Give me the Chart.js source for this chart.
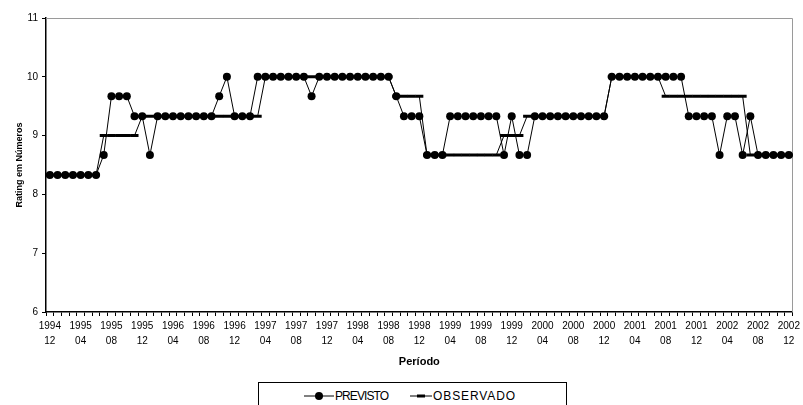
<!DOCTYPE html>
<html><head><meta charset="utf-8">
<script src="https://cdn.jsdelivr.net/npm/chart.js@4/dist/chart.umd.min.js"></script>
<style>
html,body{margin:0;padding:0;background:#fff;}
#wrap{position:relative;width:803px;height:405px;overflow:hidden;background:#fff;}
#legend{position:absolute;left:258px;top:382px;width:309px;height:40px;border:1px solid #000;box-sizing:border-box;font:12px "Liberation Sans",Arial,sans-serif;color:#000;background:#fff;}
.item{position:absolute;top:6px;display:flex;align-items:center;line-height:14px;}
.item svg{display:block;}
</style></head><body>
<div id="wrap">
<canvas id="c" width="803" height="405"></canvas>
<div id="legend">
 <div class="item" style="left:45px"><svg width="30" height="10"><line x1="0" y1="5" x2="30" y2="5" stroke="#000" stroke-width="1"/><circle cx="15" cy="5" r="4" fill="#000"/></svg><span style="margin-left:1px;letter-spacing:-0.9px">PREVISTO</span></div>
 <div class="item" style="left:151px"><svg width="22" height="10"><line x1="0" y1="5" x2="22" y2="5" stroke="#000" stroke-width="1"/><line x1="7" y1="5" x2="15" y2="5" stroke="#000" stroke-width="3"/></svg><span style="margin-left:1px;letter-spacing:0.9px">OBSERVADO</span></div>
</div>
</div>
<script>
// Months from 1994-12 to 2002-12
const categories = [
 '1994-12',
 '1995-01','1995-02','1995-03','1995-04','1995-05','1995-06','1995-07','1995-08','1995-09','1995-10','1995-11','1995-12',
 '1996-01','1996-02','1996-03','1996-04','1996-05','1996-06','1996-07','1996-08','1996-09','1996-10','1996-11','1996-12',
 '1997-01','1997-02','1997-03','1997-04','1997-05','1997-06','1997-07','1997-08','1997-09','1997-10','1997-11','1997-12',
 '1998-01','1998-02','1998-03','1998-04','1998-05','1998-06','1998-07','1998-08','1998-09','1998-10','1998-11','1998-12',
 '1999-01','1999-02','1999-03','1999-04','1999-05','1999-06','1999-07','1999-08','1999-09','1999-10','1999-11','1999-12',
 '2000-01','2000-02','2000-03','2000-04','2000-05','2000-06','2000-07','2000-08','2000-09','2000-10','2000-11','2000-12',
 '2001-01','2001-02','2001-03','2001-04','2001-05','2001-06','2001-07','2001-08','2001-09','2001-10','2001-11','2001-12',
 '2002-01','2002-02','2002-03','2002-04','2002-05','2002-06','2002-07','2002-08','2002-09','2002-10','2002-11','2002-12'
];

const tickLabels = [
 ['1994','12'],['1995','04'],['1995','08'],['1995','12'],['1996','04'],['1996','08'],['1996','12'],
 ['1997','04'],['1997','08'],['1997','12'],['1998','04'],['1998','08'],['1998','12'],
 ['1999','04'],['1999','08'],['1999','12'],['2000','04'],['2000','08'],['2000','12'],
 ['2001','04'],['2001','08'],['2001','12'],['2002','04'],['2002','08'],['2002','12']
];

const previsto = [
 8.33,
 8.33,8.33,8.33,8.33,8.33,8.33,8.67,9.67,9.67,9.67,9.33,9.33,
 8.67,9.33,9.33,9.33,9.33,9.33,9.33,9.33,9.33,9.67,10,9.33,
 9.33,9.33,10,10,10,10,10,10,10,9.67,10,10,
 10,10,10,10,10,10,10,10,9.67,9.33,9.33,9.33,
 8.67,8.67,8.67,9.33,9.33,9.33,9.33,9.33,9.33,9.33,8.67,9.33,
 8.67,8.67,9.33,9.33,9.33,9.33,9.33,9.33,9.33,9.33,9.33,9.33,
 10,10,10,10,10,10,10,10,10,10,9.33,9.33,
 9.33,9.33,8.67,9.33,9.33,8.67,9.33,8.67,8.67,8.67,8.67,8.67
];

const observado = [
 8.33,
 8.33,8.33,8.33,8.33,8.33,8.33,9,9,9,9,9,9.33,
 9.33,9.33,9.33,9.33,9.33,9.33,9.33,9.33,9.33,9.33,9.33,9.33,
 9.33,9.33,9.33,10,10,10,10,10,10,10,10,10,
 10,10,10,10,10,10,10,10,9.67,9.67,9.67,9.67,
 8.67,8.67,8.67,8.67,8.67,8.67,8.67,8.67,8.67,8.67,9,9,
 9,9.33,9.33,9.33,9.33,9.33,9.33,9.33,9.33,9.33,9.33,9.33,
 10,10,10,10,10,10,10,9.67,9.67,9.67,9.67,9.67,
 9.67,9.67,9.67,9.67,9.67,9.67,8.67,8.67,8.67,8.67,8.67,8.67
];

const FONT = '"Liberation Sans", Arial, sans-serif';

const framePlugin = {
  id: 'frame',
  beforeDatasetsDraw(chart) {
    const {ctx, chartArea: a} = chart;
    ctx.save();
    ctx.strokeStyle = '#9a9a9a';
    ctx.lineWidth = 1;
    ctx.beginPath();
    ctx.moveTo(a.left, Math.round(a.top) + 0.5);
    ctx.lineTo(Math.round(a.right) - 0.5, Math.round(a.top) + 0.5);
    ctx.lineTo(Math.round(a.right) - 0.5, a.bottom);
    ctx.stroke();
    ctx.restore();
  }
};

new Chart(document.getElementById('c'), {
  type: 'line',
  data: {
    labels: categories,
    datasets: [
      {
        label: 'OBSERVADO',
        data: observado,
        borderColor: '#000',
        borderWidth: 1,
        pointStyle: 'line',
        pointRadius: 4,
        pointBorderWidth: 3,
        pointBorderColor: '#000',
        pointBackgroundColor: '#000',
        tension: 0,
        fill: false
      },
      {
        label: 'PREVISTO',
        data: previsto,
        borderColor: '#000',
        borderWidth: 1,
        pointStyle: 'circle',
        pointRadius: 4,
        pointBorderWidth: 0,
        pointBackgroundColor: '#000',
        tension: 0,
        fill: false
      }
    ]
  },
  options: {
    responsive: false,
    devicePixelRatio: 1,
    animation: false,
    events: [],
    layout: { padding: { left: 0, right: 9, top: 18, bottom: 33 } },
    plugins: {
      legend: { display: false },
      tooltip: { enabled: false }
    },
    scales: {
      x: {
        type: 'category',
        offset: true,
        afterFit(s) { s.height = 60; },
        grid: {
          offset: true,
          drawOnChartArea: false,
          drawTicks: true,
          tickLength: 4,
          color: '#000',
          lineWidth: 1
        },
        border: { display: true, color: '#000', width: 1.5 },
        ticks: {
          autoSkip: false,
          maxRotation: 0,
          minRotation: 0,
          padding: 3,
          color: '#000',
          font: { family: FONT, size: 10, lineHeight: 1.5 },
          callback: (v, i) => (i % 4 === 0 ? tickLabels[i / 4] : '')
        },
        title: {
          display: true,
          text: 'Período',
          color: '#000',
          font: { family: FONT, size: 11, weight: 'bold' },
          padding: { top: 0, bottom: 3 }
        }
      },
      y: {
        min: 6,
        max: 11,
        afterFit(s) { s.width = 46; },
        grid: {
          drawOnChartArea: false,
          drawTicks: true,
          tickLength: 4,
          color: '#000'
        },
        border: { display: true, color: '#000', width: 1.5 },
        ticks: {
          stepSize: 1,
          padding: 4,
          color: '#000',
          font: { family: FONT, size: 10 }
        },
        title: {
          display: true,
          text: 'Rating em Números',
          color: '#000',
          font: { family: FONT, size: 9, weight: 'bold' },
          padding: { top: 14, bottom: 0 }
        }
      }
    }
  },
  plugins: [framePlugin]
});
</script>
</body></html>
